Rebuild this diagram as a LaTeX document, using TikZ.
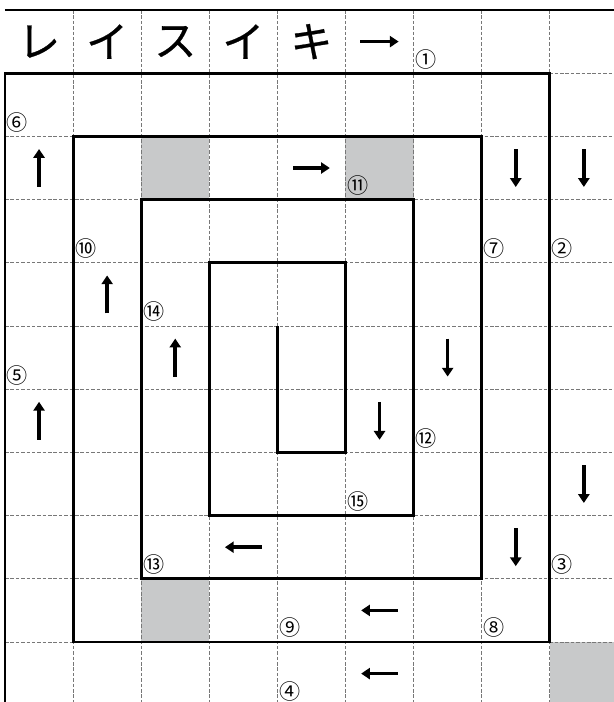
\documentclass[tikz,border=0pt]{standalone}
\usepackage{fontspec}
\newfontfamily\jpfont{Noto Sans CJK JP}
\newfontfamily\kanafont[FakeBold=0.6]{Noto Sans CJK JP}
\usetikzlibrary{arrows.meta}
\definecolor{shadegray}{HTML}{C8C9CA}
\definecolor{gridgray}{HTML}{777777}

\tikzset{
  gridline/.style={draw=gridgray,line width=0.6pt,dash pattern=on 3pt off 1.6pt},
  wall/.style={draw=black,line width=2.5pt,line join=miter},
  shade/.style={fill=shadegray},
  flow/.style={line width=3pt,-{Triangle[length=7.5pt,width=9.5pt]}},
  kana/.style={font=\kanafont\fontsize{36}{36}\selectfont,inner sep=0pt},
  num/.style={font=\jpfont\fontsize{18}{18}\selectfont,anchor=south west,
    inner sep=0pt,xshift=1.5pt,yshift=3.5pt},
}

\begin{document}
\begin{tikzpicture}[x=2.043cm,y=-1.896cm]
  \clip (-0.0734,-0.1582) rectangle (8.9427,10.9494);
  % shaded cells
  \foreach \c/\r in {2/2,5/2,2/9,8/10}
    \fill[shade] (\c,\r) rectangle ++(1,1);
  % dashed grid
  \foreach \c in {1,...,9}
    \draw[gridline] (\c,0) -- (\c,11);
  \foreach \r in {1,...,10}
    \draw[gridline] (0,\r) -- (9,\r);
  % walls of the spiral
  \draw[wall] (0,0) -- (9,0);
  \draw[wall] (0,11) -- (0,1) -- (8,1) -- (8,10) -- (1,10) -- (1,2) -- (7,2)
    -- (7,9) -- (2,9) -- (2,3) -- (6,3) -- (6,8) -- (3,8) -- (3,4) -- (5,4)
    -- (5,7) -- (4,7) -- (4,5);
  % title row
  \foreach \k [count=\i from 0] in {レ,イ,ス,イ,キ}
    \node[kana] (kana\i) at (\i+0.5,0.5) {\k};
  \draw[flow] (5.22,0.5) -- (5.78,0.5);
  % arrows in the cells
  \foreach \c/\r in {0/2,1/4,2/5,0/6}
    \draw[flow] (\c+0.5,\r+0.8) -- (\c+0.5,\r+0.2);
  \foreach \c/\r in {7/2,8/2,6/5,5/6,8/7,7/8}
    \draw[flow] (\c+0.5,\r+0.2) -- (\c+0.5,\r+0.8);
  \foreach \c/\r in {4/2}
    \draw[flow] (\c+0.23,\r+0.5) -- (\c+0.77,\r+0.5);
  \foreach \c/\r in {3/8,5/9,5/10}
    \draw[flow] (\c+0.77,\r+0.5) -- (\c+0.23,\r+0.5);
  % circled numbers
  \foreach \c/\r/\n [count=\i] in {6/0/①,8/3/②,8/8/③,4/10/④,0/5/⑤,0/1/⑥,
      7/3/⑦,7/9/⑧,4/9/⑨,1/3/⑩,5/2/⑪,6/6/⑫,2/8/⑬,2/4/⑭,5/7/⑮}
    \node[num] (num\i) at (\c,\r+1) {\n};
\end{tikzpicture}
\end{document}
